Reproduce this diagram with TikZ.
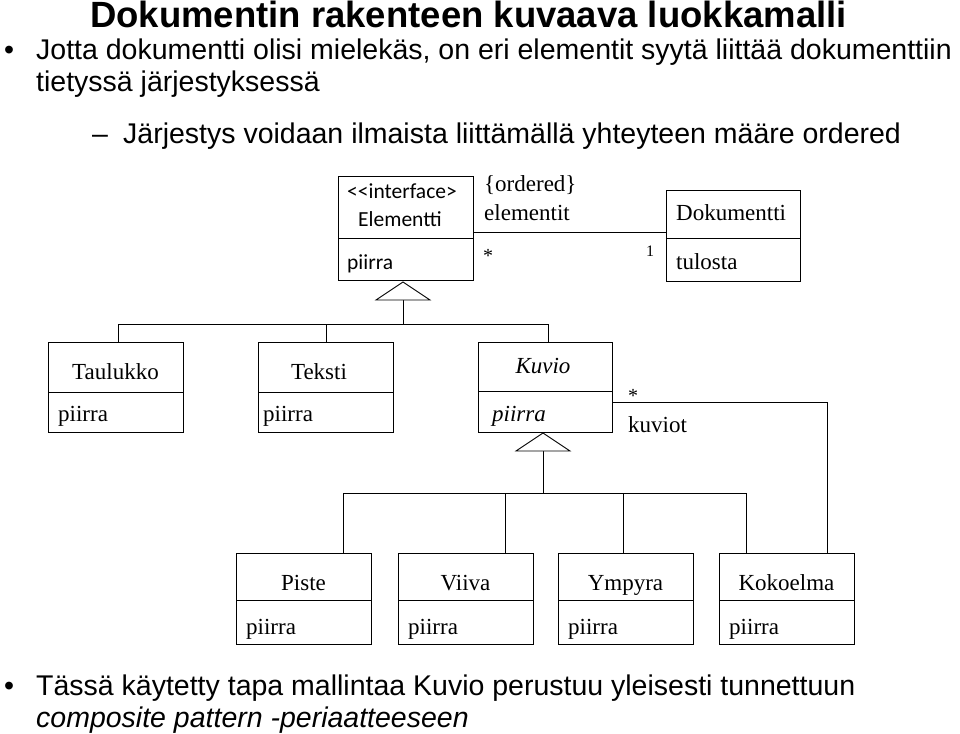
\documentclass[tikz,border=0pt]{standalone}
\usepackage{fontspec}
\setmainfont{Liberation Sans}
\newfontfamily\umlsans{Carlito}
\newfontfamily\umlserif{Liberation Serif}
\begin{document}
\begin{tikzpicture}[x=1pt,y=-1pt,
  box/.style={draw,line width=1pt},
  ln/.style={line width=0.9pt},
  tri/.style={draw,line width=0.9pt,fill=white},
  t/.style={inner sep=0,anchor=base west},
  ts/.style={inner sep=0,anchor=base west,font=\umlsans\fontsize{21.5}{24}\selectfont},
  tr/.style={inner sep=0,anchor=base west,font=\umlserif\fontsize{23}{26}\selectfont},
  tc/.style={inner sep=0,anchor=base,font=\umlserif\fontsize{23}{26}\selectfont}]
\useasboundingbox (0,0) rectangle (960,733);
% texts
\node[t,font=\bfseries\fontsize{36.5}{40}\selectfont] (title) at (90,28) {Dokumentin rakenteen kuvaava luokkamalli};
\node[t,font=\fontsize{28.5}{32}\selectfont] (b1d) at (4,60) {•};
\node[t,font=\fontsize{28.5}{32}\selectfont] (b1) at (36,60) {Jotta dokumentti olisi mielekäs, on eri elementit syytä liittää dokumenttiin};
\node[t,font=\fontsize{28.5}{32}\selectfont] (b1b) at (36,92) {tietyssä järjestyksessä};
\node[t,font=\fontsize{28.5}{32}\selectfont] (d1) at (92,143) {–};
\node[t,font=\fontsize{28.5}{32}\selectfont] (b2) at (123,143) {Järjestys voidaan ilmaista liittämällä yhteyteen määre ordered};
\node[t,font=\fontsize{28.5}{32}\selectfont] (b3d) at (4,695) {•};
\node[t,font=\fontsize{28.5}{32}\selectfont] (b3) at (36,695) {Tässä käytetty tapa mallintaa Kuvio perustuu yleisesti tunnettuun};
\node[t,font=\itshape\fontsize{28.5}{32}\selectfont] (b3b) at (36,727) {composite pattern -periaatteeseen};
% Elementti
\draw[box] (338,176) rectangle (473,280); \draw[ln] (338,238)--(473,238);
\node[ts] (ei) at (347,198) {<<interface>};
\node[ts] (en) at (358,226) {Elementti};
\node[ts] (ep) at (347,269) {piirra};
\coordinate (er) at (473,232);
% Dokumentti
\draw[box] (666,190) rectangle (800,281); \draw[ln] (666,238)--(800,238);
\node[tr] (dn) at (676,220) {Dokumentti};
\node[tr] (dp) at (676,269) {tulosta};
\coordinate (dl) at (666,232);
\draw[ln] (er)--(dl);
\node[tr] (ord) at (484,191) {\{ordered\}};
\node[tr] (elm) at (484,220) {elementit};
\node[tr,font=\umlserif\fontsize{20}{22}\selectfont] (st1) at (483,262) {*};
\node[tr,font=\umlserif\fontsize{16}{18}\selectfont] (one) at (646,256) {1};
% generalization 1
\draw[ln] (403,300)--(403,324) (118,324)--(548,324) (118,324)--(118,342) (326,324)--(326,342) (548,324)--(548,342);
\draw[tri] (403,282)--(430,300)--(376,300)--cycle;
% level 2 boxes
\draw[box] (48,342) rectangle (183,432); \draw[ln] (48,392)--(183,392);
\node[tc] (ta) at (115.5,379) {Taulukko};
\node[tr] (tap) at (58,421) {piirra};
\draw[box] (258,342) rectangle (393,432); \draw[ln] (258,392)--(393,392);
\node[tc] (te) at (319,379) {Teksti};
\node[tr] (tep) at (263,421) {piirra};
\draw[box] (478,342) rectangle (612,432); \draw[ln] (478,391)--(612,391);
\node[tc,font=\umlserif\itshape\fontsize{23}{26}\selectfont] (ku) at (543,373) {Kuvio};
\node[tr,font=\umlserif\itshape\fontsize{23}{26}\selectfont] (kup) at (492,421) {piirra};
% generalization 2
\draw[ln] (543,451)--(543,493) (343,493)--(746,493) (343,493)--(343,553) (505,493)--(505,553) (623,493)--(623,553) (746,493)--(746,553);
\draw[tri] (543,433)--(570,451)--(516,451)--cycle;
% composite association
\draw[ln] (612,402)--(827,402)--(827,553);
\node[tr,font=\umlserif\fontsize{20}{22}\selectfont] (st2) at (628,402) {*};
\node[tr] (kv) at (628,432) {kuviot};
% level 3 boxes
\foreach \x/\n in {236/Piste,398/Viiva,558/Ympyra,719/Kokoelma}{
  \draw[box] (\x,553) rectangle (\x+135,644); \draw[ln] (\x,600)--(\x+135,600);
  \node[tc] at (\x+67.5,590) {\n};
  \node[tr] at (\x+10,634) {piirra};
}
\end{tikzpicture}
\end{document}
